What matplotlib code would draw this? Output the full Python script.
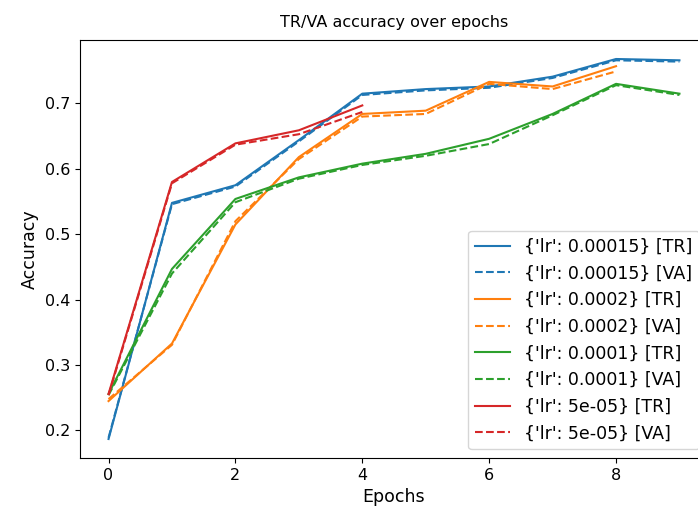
import numpy as np
import matplotlib
matplotlib.use("Agg")
import matplotlib.pyplot as plt

epochs = list(range(10))

# learning rate labels, in plotting order
lr_labels = ["0.00015", "0.0002", "0.0001", "5e-05"]

acc_tr_00015 = [0.187, 0.548, 0.575, 0.644, 0.715, 0.722, 0.726, 0.741, 0.768, 0.766]
acc_va_00015 = [0.189, 0.546, 0.573, 0.642, 0.713, 0.720, 0.724, 0.739, 0.766, 0.764]

acc_tr_0002 = [0.245, 0.333, 0.515, 0.618, 0.684, 0.689, 0.733, 0.726, 0.757]
acc_va_0002 = [0.248, 0.331, 0.520, 0.615, 0.680, 0.684, 0.730, 0.722, 0.749]

acc_tr_0001 = [0.256, 0.447, 0.554, 0.587, 0.608, 0.623, 0.646, 0.684, 0.730, 0.715]
acc_va_0001 = [0.254, 0.440, 0.549, 0.585, 0.606, 0.620, 0.638, 0.682, 0.728, 0.713]

acc_tr_5e05 = [0.256, 0.580, 0.639, 0.659, 0.697]
acc_va_5e05 = [0.254, 0.578, 0.637, 0.653, 0.687]

series_tr = [acc_tr_00015, acc_tr_0002, acc_tr_0001, acc_tr_5e05]
series_va = [acc_va_00015, acc_va_0002, acc_va_0001, acc_va_5e05]
colores = ["#1f77b4", "#ff7f0e", "#2ca02c", "#d62728"]

plt.rcParams["xtick.labelsize"] = 11.5
plt.rcParams["ytick.labelsize"] = 11.5

fig = plt.figure(figsize=(6.98, 5.14), dpi=100)
# el eje derecho queda fuera del recorte, como en la original
ax = fig.add_axes([80 / 698, 56 / 514, 628 / 698, 418 / 514])

for lr, tr, va, c in zip(lr_labels, series_tr, series_va, colores):
    ax.plot(epochs[:len(tr)], tr, color=c, label="{'lr': %s} [TR]" % lr)
    ax.plot(epochs[:len(va)], va, color=c, linestyle="--", label="{'lr': %s} [VA]" % lr)

ax.set_title("TR/VA accuracy over epochs", fontsize=11.5, pad=9)
ax.set_xlabel("Epochs", fontsize=12.5)
ax.set_ylabel("Accuracy", fontsize=12.5)
ax.legend(loc="lower right", fontsize=12.5)

fig.savefig("out.png", dpi=100)
